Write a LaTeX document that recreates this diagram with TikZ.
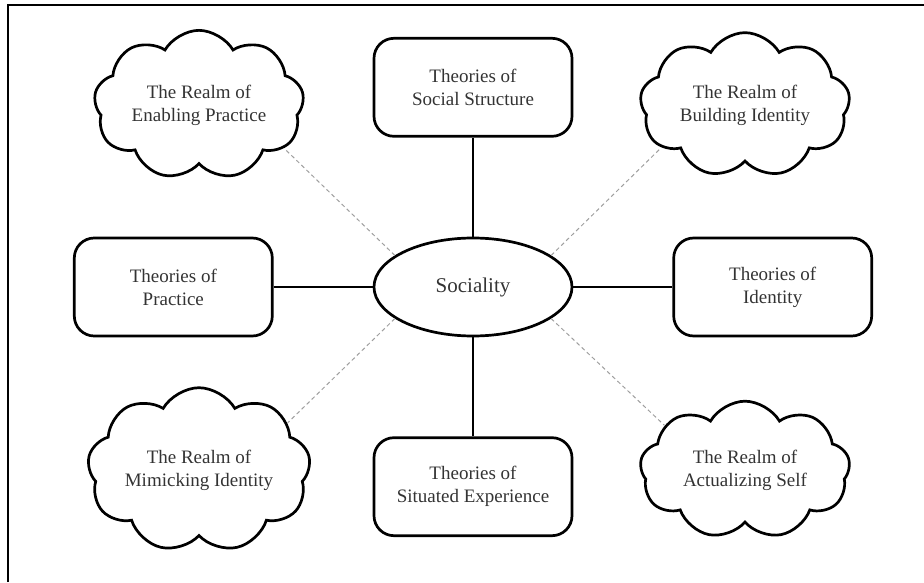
\documentclass[tikz,border=0pt]{standalone}
\usepackage{fontspec}
\setmainfont{Liberation Serif}
\usetikzlibrary{positioning,shapes.geometric,shapes.symbols}

\tikzset{
    theorybox/.style={draw, line width=2.7pt, rounded corners=20pt, minimum width=198pt, minimum height=98pt,
        align=center, text=black!80, font=\fontsize{19}{23}\selectfont},
    realm/.style={cloud, draw, line width=2.7pt, cloud puffs=9, cloud puff arc=120, aspect=1.6,
        minimum width=210pt, minimum height=132pt, inner sep=0pt, align=center, text=black!80,
        font=\fontsize{19}{23}\selectfont},
    core/.style={ellipse, draw, line width=2.7pt, minimum width=198pt, minimum height=98pt,
        text=black!80, font=\fontsize{21}{25}\selectfont},
    tie/.style={line width=2.8pt},
    realmlink/.style={gray!75, line width=1pt, dash pattern=on 4pt off 3pt}
}

\begin{document}
\begin{tikzpicture}[x=1pt,y=1pt]
        \useasboundingbox (0,0) rectangle (924,582);
        \draw[line width=1.5pt] (8,0) -- (8,577) -- (924,577);
        \node[core] (soc) at (473,295) {Sociality};
        \node[theorybox, above=99pt of soc] (struct) {Theories of\\Social Structure};
        \node[theorybox, left=99pt of soc] (prac) {Theories of\\Practice};
        \node[theorybox, right=99pt of soc] (ident) {Theories of\\Identity};
        \node[theorybox, below=99pt of soc] (situ) {Theories of\\Situated Experience};
        \node[realm] (enab) at (199,477) {The Realm of\\Enabling Practice};
        \node[realm] (build) at (745,477) {The Realm of\\Building Identity};
        \node[realm] (mimic) at (199,112) {The Realm of\\Mimicking Identity};
        \node[realm] (actual) at (745,112) {The Realm of\\Actualizing Self};
        \draw[tie] (struct) -- (soc);
        \draw[tie] (prac) -- (soc);
        \draw[tie] (ident) -- (soc);
        \draw[tie] (situ) -- (soc);
        \draw[realmlink] (soc.158) -- (enab.-27);
        \draw[realmlink] (soc.22) -- (build.207);
        \draw[realmlink] (soc.202) -- (mimic.28);
        \draw[realmlink] (soc.-22) -- (actual.151);
    \end{tikzpicture}
\end{document}
